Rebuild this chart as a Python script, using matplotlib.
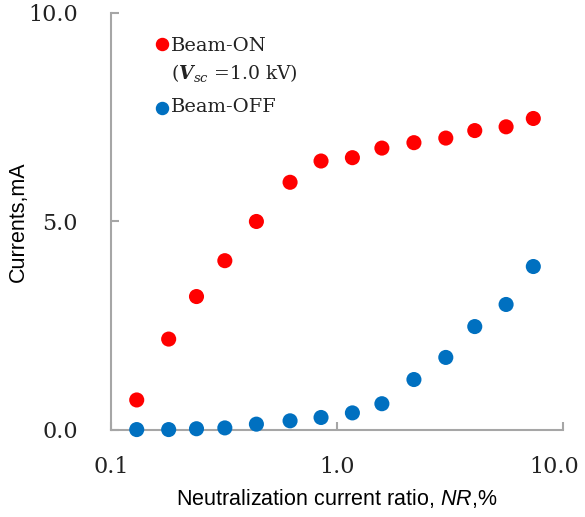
import matplotlib
matplotlib.use("Agg")
import matplotlib.pyplot as plt
from matplotlib.ticker import FixedLocator, FixedFormatter
from matplotlib.transforms import ScaledTranslation

plt.rcParams["mathtext.fontset"] = "custom"
plt.rcParams["mathtext.rm"] = "DejaVu Serif"
plt.rcParams["mathtext.it"] = "DejaVu Serif:italic"
plt.rcParams["mathtext.bf"] = "DejaVu Serif:italic:bold"
plt.rcParams["mathtext.sf"] = "Liberation Sans:italic"

nr = [0.13, 0.18, 0.239, 0.319, 0.44, 0.62, 0.85, 1.17, 1.58, 2.19, 3.03, 4.07, 5.6, 7.39]
beam_on = [0.72, 2.18, 3.20, 4.06, 5.00, 5.94, 6.45, 6.53, 6.76, 6.89, 7.00, 7.18, 7.27, 7.47]
beam_off = [0.01, 0.01, 0.03, 0.05, 0.14, 0.22, 0.30, 0.41, 0.63, 1.21, 1.74, 2.48, 3.01, 3.92]
xticks = [0.1, 1.0, 10.0]
xticklabels = ["0.1", "1.0", "10.0"]
yticks = [0.0, 5.0, 10.0]
yticklabels = ["0.0", "5.0", "10.0"]

RED = "#FF0000"
BLUE = "#0070C0"
GRAY = "#A6A6A6"
SERIF = "DejaVu Serif"
SANS = "Liberation Sans"

fig = plt.figure(figsize=(5.85, 5.17), dpi=100)
ax = fig.add_axes([0.1897, 0.1683, 0.9624 - 0.1897, 0.9749 - 0.1683])

ax.scatter(nr, beam_on, s=118, color=RED, edgecolors="none", zorder=3, clip_on=False)
ax.scatter(nr, beam_off, s=118, color=BLUE, edgecolors="none", zorder=3, clip_on=False)

ax.set_xscale("log")
ax.set_xlim(0.1, 10)
ax.set_ylim(0, 10)
ax.xaxis.set_major_locator(FixedLocator(xticks))
ax.xaxis.set_major_formatter(FixedFormatter(xticklabels))
ax.xaxis.set_minor_locator(FixedLocator([]))
ax.yaxis.set_major_locator(FixedLocator(yticks))
ax.yaxis.set_major_formatter(FixedFormatter(yticklabels))

for s in ["top", "right"]:
    ax.spines[s].set_visible(False)
for s in ["left", "bottom"]:
    ax.spines[s].set_color(GRAY)
    ax.spines[s].set_linewidth(1.5)

ax.tick_params(axis="both", direction="in", length=6, width=1.5, color=GRAY)
ax.tick_params(axis="y", pad=24)
ax.tick_params(axis="x", pad=19)
for lab in ax.get_xticklabels() + ax.get_yticklabels():
    lab.set_fontfamily(SERIF)
    lab.set_fontsize(16)
    lab.set_color("#222222")

# nudge the last x tick label left so it stays inside the figure (as in reference)
last = ax.xaxis.get_major_ticks()[-1].label1
last.set_transform(last.get_transform() + ScaledTranslation(-6 / 72, 0, fig.dpi_scale_trans))

ax.set_xlabel("Neutralization current ratio, $\\mathsf{NR}$,%", fontfamily=SANS, fontsize=15.5, labelpad=6)
ax.set_ylabel("Currents,mA", fontfamily=SANS, fontsize=15.5, labelpad=-1)

# legend (manual, frameless)
ax.scatter([0.112], [0.925], s=75, color=RED, transform=ax.transAxes, clip_on=False)
ax.text(0.132, 0.922, "Beam-ON", transform=ax.transAxes, fontfamily=SERIF, fontsize=14,
        va="center", ha="left", color="#222222")
ax.text(0.132, 0.857, "($\\mathbf{V}_{sc}$ =1.0 kV)", transform=ax.transAxes, fontfamily=SERIF, fontsize=13.5,
        va="center", ha="left", color="#222222")
ax.scatter([0.112], [0.771], s=75, color=BLUE, transform=ax.transAxes, clip_on=False)
ax.text(0.132, 0.775, "Beam-OFF", transform=ax.transAxes, fontfamily=SERIF, fontsize=14,
        va="center", ha="left", color="#222222")

fig.savefig("out.png", dpi=100)
